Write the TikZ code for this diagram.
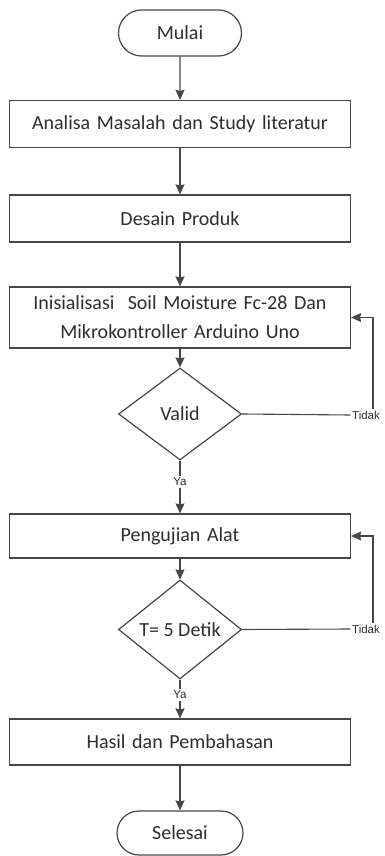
\documentclass[tikz,border=0pt]{standalone}
\usepackage{fontspec}
\setmainfont{Carlito}
\newfontfamily\labelfont{Liberation Sans}
\usetikzlibrary{shapes.geometric, shapes.misc, arrows.meta}
\definecolor{linegray}{RGB}{70,70,70}
\definecolor{textgray}{RGB}{45,45,45}
\tikzset{
    % process box style
    process/.style = {draw=linegray, line width=1.2pt, rectangle, minimum width=341pt, minimum height=47pt,
        text width=330pt, align=center, inner sep=0pt, text=textgray, font=\fontsize{20}{29}\selectfont},
    % start and end style
    terminal/.style = {draw=linegray, line width=1.2pt, rounded rectangle, minimum width=123pt, minimum height=46pt,
        inner sep=0pt, text=textgray, font=\fontsize{20}{24}\selectfont},
    % decision style
    decision/.style = {draw=linegray, line width=1.2pt, diamond, minimum width=123pt, minimum height=92pt,
        inner sep=0pt, text=textgray, font=\fontsize{20}{24}\selectfont},
    % connector styles
    link/.style = {draw=linegray, line width=1.1pt},
    flow/.style = {link, -{Stealth[length=10pt, width=9pt, inset=1pt]}},
    % yes / no label style
    answer/.style = {inner sep=1.5pt, text=textgray, font=\labelfont\fontsize{11.5}{13}\selectfont}
}

\begin{document}
\begin{tikzpicture}[x=1pt, y=-1pt]
    \useasboundingbox (0,0) rectangle (384,856);
    % steps of the flow
    \node[terminal] (mulai) at (180,33) {Mulai};
    \node[process] (analisa) at (180,124) {Analisa Masalah dan Study literatur};
    \node[process] (desain) at (180,218.5) {Desain Produk};
    \node[process, minimum height=61pt] (init) at (180,317.5) {Inisialisasi\ \ Soil Moisture Fc-28 Dan\\Mikrokontroller Arduino Uno};
    \node[decision] (valid) at (180,414) {Valid};
    \node[answer] (ya1) at (180,482) {Ya};
    \node[answer] (tidak1) at (366,415) {Tidak};
    \node[process, minimum height=44pt] (uji) at (180,536) {Pengujian Alat};
    \node[decision, minimum height=99pt] (waktu) at (180,629.5) {T= 5 Detik};
    \node[answer] (ya2) at (180,695) {Ya};
    \node[answer] (tidak2) at (366,629) {Tidak};
    \node[process, minimum height=46pt] (hasil) at (180,742) {Hasil dan Pembahasan};
    \node[terminal, minimum height=44pt, minimum width=126pt] (selesai) at (180,833) {Selesai};
    % connectors
    \draw[flow] (mulai) -- (analisa);
    \draw[flow] (analisa) -- (desain);
    \draw[flow] (desain) -- (init);
    \draw[flow] (init) -- (valid);
    \draw[link] (valid) -- (ya1);
    \draw[flow] (ya1) -- (uji);
    \draw[link] (valid.east) -- (tidak1.west);
    \draw[flow] ([xshift=7pt]tidak1.north) |- (init.east);
    \draw[flow] (uji) -- (waktu);
    \draw[link] (waktu) -- (ya2);
    \draw[flow] (ya2) -- (hasil);
    \draw[link] (waktu.east) -- (tidak2.west);
    \draw[flow] ([xshift=7pt]tidak2.north) |- (uji.east);
    \draw[flow] (hasil) -- (selesai);
\end{tikzpicture}
\end{document}
